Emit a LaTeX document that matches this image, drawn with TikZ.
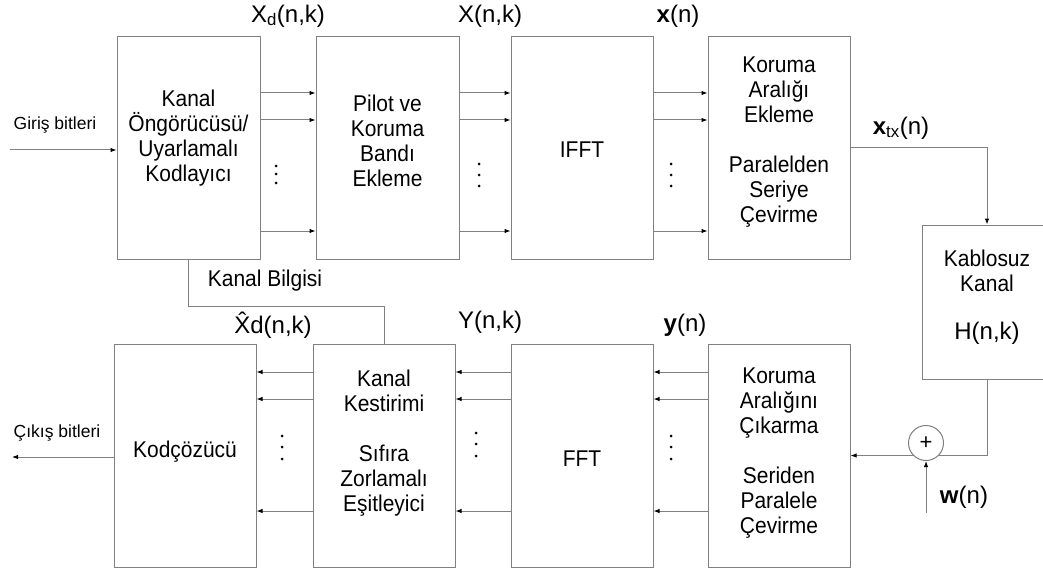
\documentclass[tikz,border=0pt]{standalone}
\usepackage{fontspec}
\setmainfont{Liberation Sans}
\newfontfamily\blkfont{Liberation Sans}[FakeStretch=0.92]
\usetikzlibrary{arrows.meta}
\definecolor{lg}{RGB}{128,128,128}
\begin{document}
\begin{tikzpicture}[x=1pt,y=-1pt,
  blk/.style={draw=lg,line width=1pt,rectangle,minimum width=142pt,minimum height=222pt,inner sep=0pt},
  txt/.style={align=center,font=\blkfont\fontsize{22.8}{25}\selectfont,inner sep=0pt},
  lbl/.style={font=\fontsize{24}{28}\selectfont,inner sep=0pt},
  sml/.style={font=\fontsize{17.5}{20}\selectfont,inner sep=0pt},
  con/.style={draw=lg,line width=1pt},
  arr/.style={con,-{Latex[length=6pt,width=4.5pt,color=black]}},
  dotn/.style={circle,fill=black,inner sep=0pt,minimum size=3pt}]
\useasboundingbox (0,0) rectangle (1043,572);
\clip (0,0) rectangle (1043,572);
% blocks
\node[blk,minimum width=143pt] (b1) at (188.5,148) {};
\node[blk,minimum width=143pt] (b2) at (387.5,148) {};
\node[blk] (b3) at (582,148) {};
\node[blk] (b4) at (779,148) {};
\node[blk,minimum height=223pt] (c1) at (185,455.5) {};
\node[blk,minimum height=223pt] (c2) at (384,455.5) {};
\node[blk,minimum height=223pt] (c3) at (582,455.5) {};
\node[blk,minimum height=223pt] (c4) at (779,455.5) {};
\node[blk,minimum width=130pt,minimum height=154pt] (kab) at (987,302) {};
% block texts
\node[txt] (t1) at (188.5,138) {Kanal\\Öngörücüsü/\\Uyarlamalı\\Kodlayıcı};
\node[txt] (t2) at (387.5,140.5) {Pilot ve\\Koruma\\Bandı\\Ekleme};
\node[txt] (t3) at (582,150) {IFFT};
\node[txt] (t4) at (779,142.5) {Koruma\\Aralığı\\Ekleme\\[25pt]Paralelden\\Seriye\\Çevirme};
\node[txt] (u1) at (185,452) {Kodçözücü};
\node[txt] (u2) at (384,443.5) {Kanal\\Kestirimi\\[25pt]Sıfıra\\Zorlamalı\\Eşitleyici};
\node[txt] (u3) at (582,459) {FFT};
\node[txt] (u4) at (779,453) {Koruma\\Aralığını\\Çıkarma\\[25pt]Seriden\\Paralele\\Çevirme};
\node[txt] (tk) at (987,271) {Kablosuz\\Kanal};
\node[lbl] (th) at (987,333) {H(n,k)};
% labels
\node[lbl] (lxd) at (288,16) {X\textsubscript{d}(n,k)};
\node[lbl] (lx) at (490,16) {X(n,k)};
\node[lbl] (lxn) at (678,16) {\textbf{x}(n)};
\node[lbl] (ltx) at (901,128) {\textbf{x}\textsubscript{tx}(n)};
\node[lbl] (lhat) at (273,325) {\^{X}d(n,k)};
\node[lbl] (ly) at (490,322) {Y(n,k)};
\node[lbl] (lyn) at (685,325) {\textbf{y}(n)};
\node[lbl] (lw) at (964,497) {\textbf{w}(n)};
\node[txt] (lkb) at (265,281) {Kanal Bilgisi};
\node[sml] (lin) at (55,125) {Giriş bitleri};
\node[sml] (lout) at (57,433) {Çıkış bitleri};
% parallel arrows
\coordinate (r1) at (0,93);
\coordinate (r2) at (0,120);
\coordinate (r3) at (0,231);
\coordinate (s1) at (0,372);
\coordinate (s2) at (0,399);
\coordinate (s3) at (0,511);
\foreach \r in {r1,r2,r3}{
  \draw[arr] (b1.east |- \r) -- (b2.west |- \r);
  \draw[arr] (b2.east |- \r) -- (b3.west |- \r);
  \draw[arr] (b3.east |- \r) -- (b4.west |- \r);
}
\foreach \s in {s1,s2,s3}{
  \draw[arr] (c4.west |- \s) -- (c3.east |- \s);
  \draw[arr] (c3.west |- \s) -- (c2.east |- \s);
  \draw[arr] (c2.west |- \s) -- (c1.east |- \s);
}
% input / output
\coordinate (in) at (10,150);
\draw[arr] (in) -- (b1.west |- in);
\coordinate (out) at (12,457);
\draw[arr] (c1.west |- out) -- (out);
% channel info
\coordinate (kb) at (0,306);
\draw[con] (b1.south) |- (kb -| c2.north) -- (c2.north);
% transmit path
\draw[arr] (b4.east) -| (kab.north);
\draw[arr] (kab.south) |- (c4.east);
\node[circle,draw=lg,line width=1pt,fill=white,minimum size=35pt,inner sep=0pt,font=\fontsize{22}{22}\selectfont] (sum) at (926,443) {+};
\coordinate (wn) at (926,513);
\draw[arr] (wn) -- (sum.south);
% dots
\foreach \x/\y [count=\i] in {276/166,276/174,276/183,479/164,479/175,479/186,671/164,671/175,671/186,282/436,282/447,282/459,476/433,476/444,476/456,671/436,671/447,671/459}{
  \node[dotn] (d\i) at (\x,\y) {};
}
\end{tikzpicture}
\end{document}
